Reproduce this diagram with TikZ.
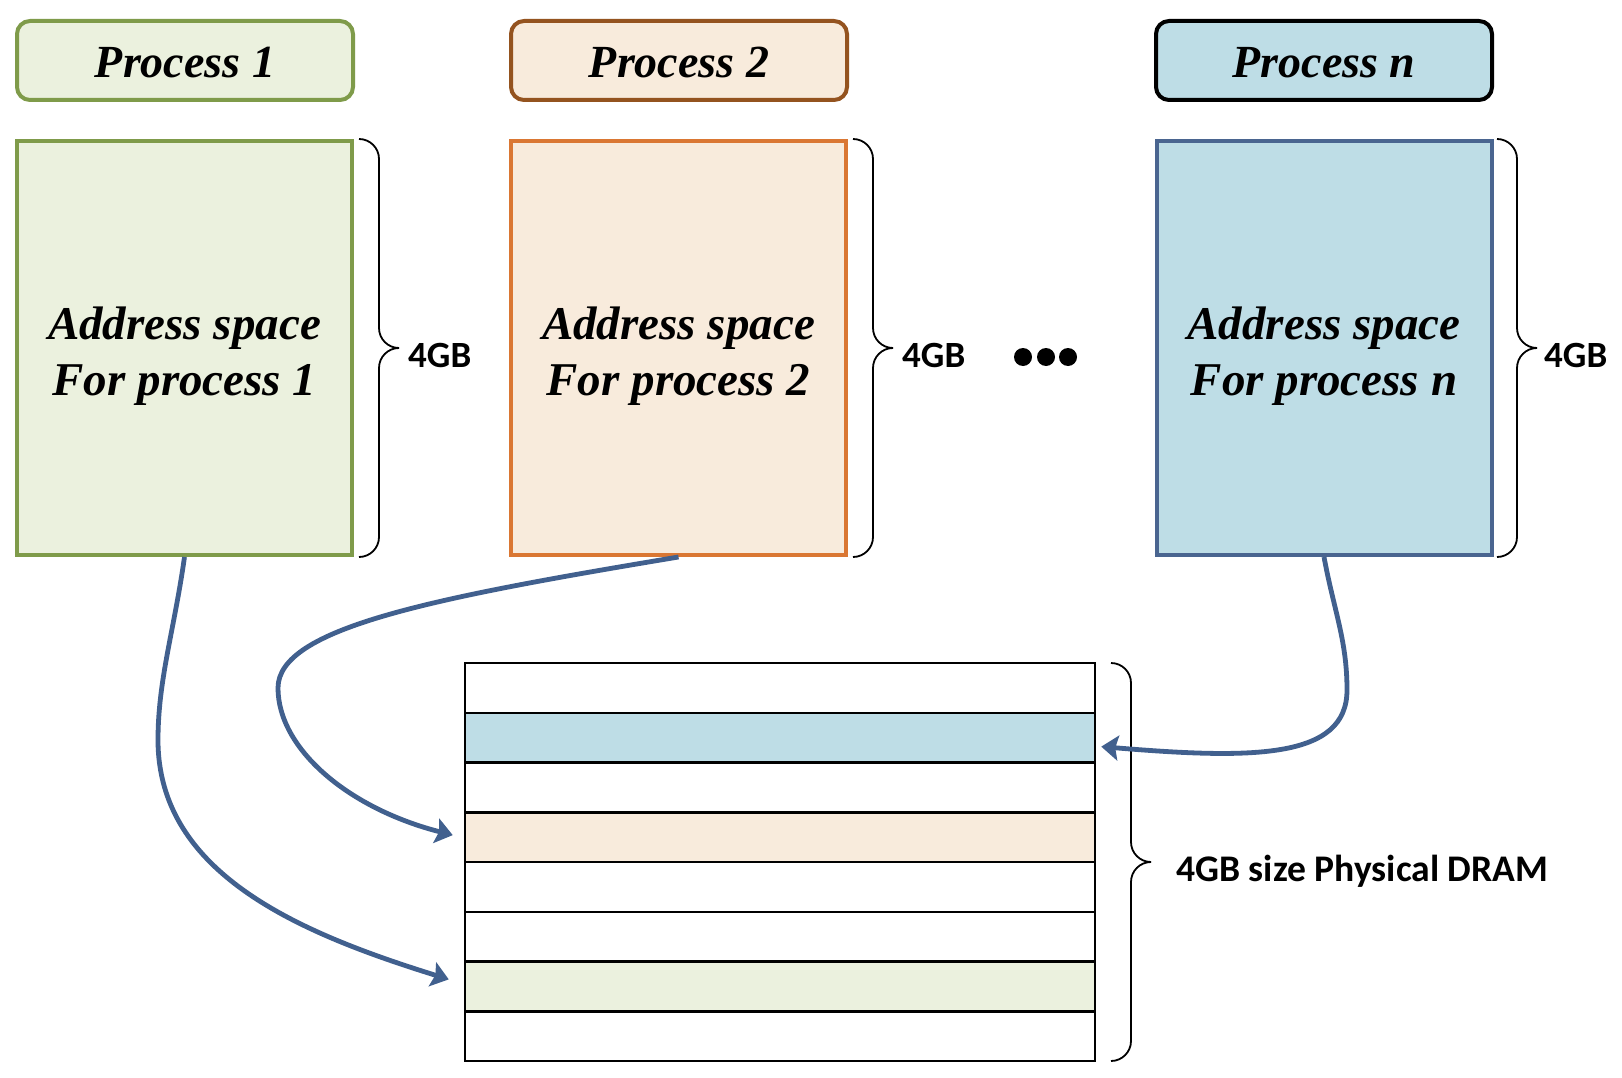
\documentclass[tikz,border=0pt]{standalone}
\usepackage{fontspec}
\setmainfont{Liberation Serif}
\newfontfamily\calibrif{Carlito}
\usetikzlibrary{arrows.meta,calc}
\definecolor{grnfill}{HTML}{EBF1DE}
\definecolor{grnline}{HTML}{7F9B4A}
\definecolor{orgfill}{HTML}{F8EBDC}
\definecolor{orgtitle}{HTML}{94531F}
\definecolor{orgline}{HTML}{DA7733}
\definecolor{blufill}{HTML}{BEDDE6}
\definecolor{bluline}{HTML}{4A6590}
\definecolor{arrowc}{HTML}{41608E}
\begin{document}
\begin{tikzpicture}[x=1pt,y=-1pt,
  titlebox/.style={draw,line width=4pt,rounded corners=13pt,minimum width=336pt,minimum height=79pt,inner sep=0pt},
  titletext/.style={inner sep=0pt,font=\fontsize{46}{56}\selectfont\bfseries\itshape},
  addrbox/.style={draw,line width=4pt,minimum width=335pt,minimum height=414pt,inner sep=0pt},
  addrtext/.style={inner sep=0pt,align=center,font=\fontsize{47}{56}\selectfont\bfseries\itshape},
  sizelabel/.style={font=\calibrif\bfseries\fontsize{37}{44}\selectfont,anchor=west,inner sep=0pt},
  memrow/.style={draw,line width=2.5pt,minimum width=630pt,minimum height=49.75pt,inner sep=0pt},
  bracestroke/.style={line width=1.8pt,rounded corners=20pt},
  maparrow/.style={draw=arrowc,line width=4.8pt,-{Stealth[length=17pt,width=25pt,inset=3pt]}},
  dotmark/.style={circle,fill=black,minimum size=18pt,inner sep=0pt}
]
\fill[white] (0,0) rectangle (1622,1078);
\useasboundingbox (0,0) rectangle (1622,1078);

% titles
\node[titlebox,draw=grnline,fill=grnfill] (t1) at (185,60.5) {};
\node[titlebox,draw=orgtitle,fill=orgfill] (t2) at (679,60.5) {};
\node[titlebox,draw=black,fill=blufill] (tn) at (1324,60.5) {};
\node[titletext] (t1x) at ($(t1.center)+(0,2)$) {Process 1};
\node[titletext] (t2x) at ($(t2.center)+(0,2)$) {Process 2};
\node[titletext] (tnx) at ($(tn.center)+(0,2)$) {Process \textit{n}};

% address spaces
\node[addrbox,draw=grnline,fill=grnfill] (a1) at (184.5,348) {};
\node[addrbox,draw=orgline,fill=orgfill] (a2) at (678.5,348) {};
\node[addrbox,draw=bluline,fill=blufill] (an) at (1324,348) {};
\node[addrtext] (a1x) at ($(a1.center)+(0,8)$) {Address space\\For process 1};
\node[addrtext] (a2x) at ($(a2.center)+(0,8)$) {Address space\\For process 2};
\node[addrtext] (anx) at ($(an.center)+(0,8)$) {Address space\\For process n};

% braces for address spaces
\draw[bracestroke] (359,139) -- (379,139) -- (379,348) -- (399,348);
\draw[bracestroke] (399,348) -- (379,348) -- (379,557) -- (359,557);
\draw[bracestroke] (853,139) -- (873,139) -- (873,348) -- (893,348);
\draw[bracestroke] (893,348) -- (873,348) -- (873,557) -- (853,557);
\draw[bracestroke] (1497,139) -- (1517,139) -- (1517,348) -- (1537,348);
\draw[bracestroke] (1537,348) -- (1517,348) -- (1517,557) -- (1497,557);

\node[sizelabel] (g1) at (408,355) {4GB};
\node[sizelabel] (g2) at (902,355) {4GB};
\node[sizelabel] (gn) at (1544,355) {4GB};

% dots
\node[dotmark] (d1) at (1023,357) {};
\node[dotmark] (d2) at (1046,357) {};
\node[dotmark] (d3) at (1068,357) {};

% physical DRAM rows
\node[memrow,fill=white]   (r1) at (780,687.875) {};
\node[memrow,fill=blufill] (r2) at (780,737.625) {};
\node[memrow,fill=white]   (r3) at (780,787.375) {};
\node[memrow,fill=orgfill] (r4) at (780,837.125) {};
\node[memrow,fill=white]   (r5) at (780,886.875) {};
\node[memrow,fill=white]   (r6) at (780,936.625) {};
\node[memrow,fill=grnfill] (r7) at (780,986.375) {};
\node[memrow,fill=white]   (r8) at (780,1036.125) {};

% DRAM brace
\draw[bracestroke] (1111,663) -- (1131,663) -- (1131,862) -- (1151,862);
\draw[bracestroke] (1151,862) -- (1131,862) -- (1131,1061) -- (1111,1061);
\node[sizelabel,font=\calibrif\bfseries\fontsize{37.6}{44}\selectfont] (gd) at (1176,871) {4GB size Physical DRAM};

% arrow end points
\coordinate (e1) at ($(r7.west)+(-15,-7)$);
\coordinate (e2) at ($(r4.west)+(-11,-2)$);
\coordinate (en) at ($(r2.east)+(5,9)$);

% mapping arrows
\draw[maparrow] (a1.south) .. controls (174,631) and (158,680) .. (158,740)
   .. controls (158,875) and (303,934) .. (e1);
\draw[maparrow] (a2.south) .. controls (432,598) and (278,628) .. (278,688)
   .. controls (278,748) and (347,808) .. (e2);
\draw[maparrow] (an.south) .. controls (1334,611) and (1347,640) .. (1347,690)
   .. controls (1347,760) and (1250,759) .. (en);
\end{tikzpicture}
\end{document}
